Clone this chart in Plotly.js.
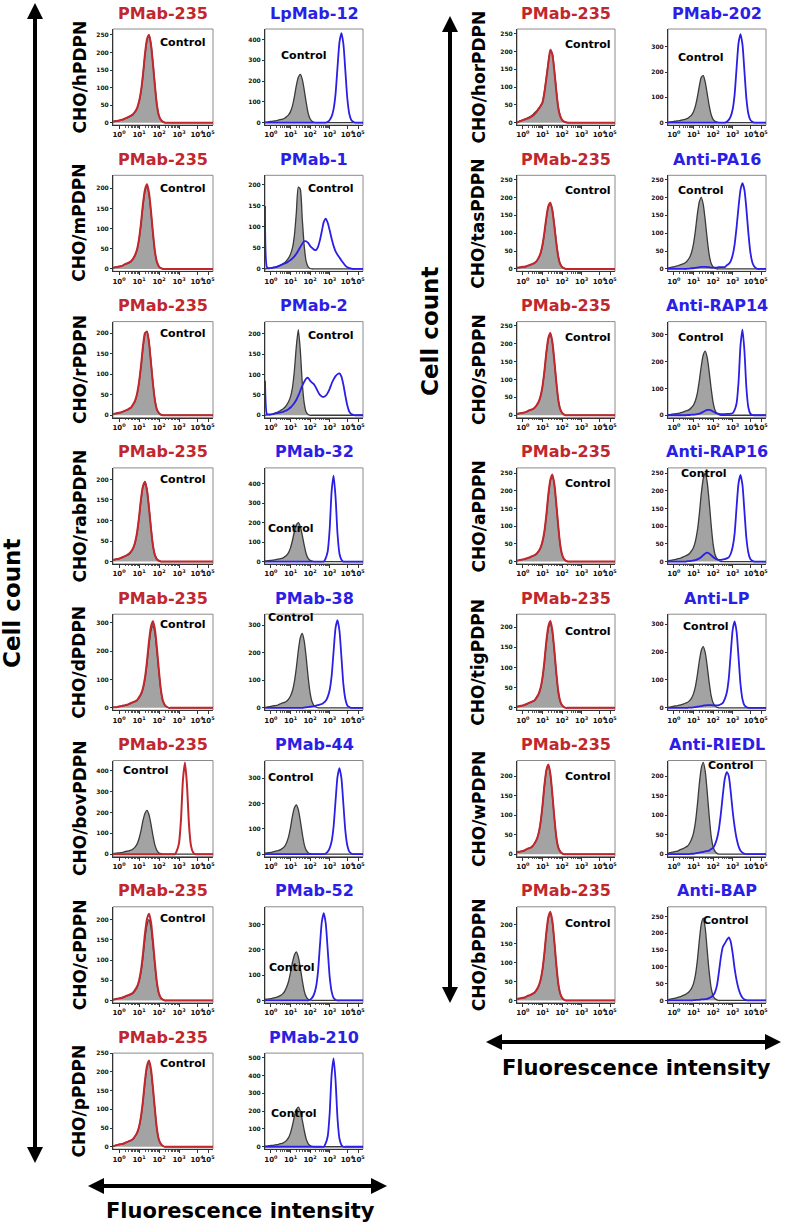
<!DOCTYPE html>
<html><head><meta charset="utf-8">
<script src="https://cdn.plot.ly/plotly-3.0.1.min.js"></script>
<style>html,body{margin:0;padding:0;background:#fff}#chart{width:787px;height:1228px}</style>
</head><body><div id="chart"></div>
<script>
// log10 fluorescence (decades), shared bin centres
const X = [-0.3,-0.2,-0.1,0,0.1,0.2,0.3,0.4,0.5,0.6,0.7,0.8,0.9,1,1.1,1.2,1.3,1.4,1.5,1.6,1.7,1.8,1.9,2,2.1,2.2,2.3,2.4,2.5,2.6,2.7,2.8,2.9,3,3.1,3.2,3.3,3.4,3.5,3.6,3.7,3.8,3.9,4,4.1,4.2,4.3,4.4,4.5,4.6,4.7];
const xTickVals = [0,1,2,3,3.9,4.45];
const xTickText = ['10<sup>0</sup>','10<sup>1</sup>','10<sup>2</sup>','10<sup>3</sup>','10<sup>4</sup>','10<sup>5</sup>'];

const leftRowLabels  = ['CHO/hPDPN','CHO/mPDPN','CHO/rPDPN','CHO/rabPDPN','CHO/dPDPN','CHO/bovPDPN','CHO/cPDPN','CHO/pPDPN'];
const rightRowLabels = ['CHO/horPDPN','CHO/tasPDPN','CHO/sPDPN','CHO/aPDPN','CHO/tigPDPN','CHO/wPDPN','CHO/bPDPN'];
const leftAntibodies  = ['LpMab-12','PMab-1','PMab-2','PMab-32','PMab-38','PMab-44','PMab-52','PMab-210'];
const rightAntibodies = ['PMab-202','Anti-PA16','Anti-RAP14','Anti-RAP16','Anti-LP','Anti-RIEDL','Anti-BAP'];

// ---- counts per bin (51 bins) ----
const hPDPN_ctrl     = [3,4,5,6,8,9,11,14,16,19, 23,30,40,58,88,135,193,235,250,225, 170,105,50,20,8,3,0,0,0,0, 0,0,0,0,0,0,0,0,0,0, 0,0,0,0,0,0,0,0,0,0, 0];
const hPDPN_pmab235  = [3,4,5,6,8,9,12,14,17,20, 24,31,41,60,90,138,196,238,250,222, 166,102,48,19,7,2,0,0,0,0, 0,0,0,0,0,0,0,0,0,0, 0,0,0,0,0,0,0,0,0,0, 0];
const LpMab12_ctrl   = [2,3,5,6,7,8,10,13,15,17, 21,28,37,53,81,125,179,218,232,209, 158,97,46,19,7,2,0,0,0,0, 0,0,0,0,0,0,0,0,0,0, 0,0,0,0,0,0,0,0,0,0, 0];
const LpMab12_ab     = [0,0,0,0,0,0,0,0,0,0, 0,0,0,0,0,0,0,0,0,0, 0,0,0,0,0,0,0,0,0,0, 0,0,4,13,30,65,138,267,387,430, 378,249,116,43,13,4,0,0,0,0, 0];
const mPDPN_ctrl     = [3,4,5,6,7,9,11,13,15,18, 25,33,47,72,111,158,193,205,185,139, 86,41,16,6,2,0,0,0,0,0, 0,0,0,0,0,0,0,0,0,0, 0,0,0,0,0,0,0,0,0,0, 0];
const mPDPN_pmab235  = [3,4,5,6,7,9,12,14,16,19, 25,34,48,74,113,162,197,210,189,143, 88,42,17,6,2,0,0,0,0,0, 0,0,0,0,0,0,0,0,0,0, 0,0,0,0,0,0,0,0,0,0, 0];
const PMab1_ctrl     = [0,1,1,2,3,4,5,7,9,12, 15,20,26,35,50,80,135,195,190,120, 55,18,5,1,0,0,0,0,0,0, 0,0,0,0,0,0,0,0,0,0, 0,0,0,0,0,0,0,0,0,0, 0];
const PMab1_ab       = [150,4,2,2,3,4,5,7,9,11, 13,15,18,21,25,30,36,44,52,60, 66,66,62,55,50,46,45,52,68,90, 112,120,110,92,72,55,42,34,27,20, 14,8,4,2,1,0,0,0,0,0, 0];
const rPDPN_ctrl     = [3,4,5,6,7,9,11,13,15,18, 25,34,50,78,118,165,198,205,180,130, 78,36,14,5,2,0,0,0,0,0, 0,0,0,0,0,0,0,0,0,0, 0,0,0,0,0,0,0,0,0,0, 0];
const rPDPN_pmab235  = [3,4,5,6,7,9,11,13,16,19, 26,35,52,80,120,168,200,203,177,127, 75,35,13,5,1,0,0,0,0,0, 0,0,0,0,0,0,0,0,0,0, 0,0,0,0,0,0,0,0,0,0, 0];
const PMab2_ctrl     = [0,1,1,2,3,5,7,9,12,15, 19,25,33,45,68,110,170,210,160,80, 30,8,2,0,0,0,0,0,0,0, 0,0,0,0,0,0,0,0,0,0, 0,0,0,0,0,0,0,0,0,0, 0];
const PMab2_ab       = [85,3,2,2,3,4,5,6,7,8, 10,12,15,19,24,30,38,48,60,72, 82,90,92,85,80,76,68,58,50,46, 45,48,55,65,78,88,96,101,103,95, 75,48,24,9,3,1,0,0,0,0, 0];
const rabPDPN_ctrl    = [4,5,6,7,9,11,13,15,18,23, 31,45,68,105,150,183,195,176,133,82, 39,16,6,2,0,0,0,0,0,0, 0,0,0,0,0,0,0,0,0,0, 0,0,0,0,0,0,0,0,0,0, 0];
const rabPDPN_pmab235 = [4,5,6,7,9,11,13,16,19,24, 32,46,70,107,152,184,193,173,130,80, 38,15,5,2,0,0,0,0,0,0, 0,0,0,0,0,0,0,0,0,0, 0,0,0,0,0,0,0,0,0,0, 0];
const PMab32_ctrl    = [3,4,5,6,7,9,11,13,15,18, 24,32,46,70,108,154,188,200,180,136, 84,40,16,6,2,0,0,0,0,0, 0,0,0,0,0,0,0,0,0,0, 0,0,0,0,0,0,0,0,0,0, 0];
const PMab32_ab      = [0,0,0,0,0,0,0,0,0,0, 0,0,0,0,0,0,0,0,0,0, 0,0,0,0,0,0,0,0,0,0, 0,18,53,167,361,440,330,141,40,9, 0,0,0,0,0,0,0,0,0,0, 0];
const dPDPN_ctrl     = [2,2,3,4,6,7,9,10,13,16, 19,22,26,35,46,67,102,157,223,273, 290,261,197,122,58,23,9,3,0,0, 0,0,0,0,0,0,0,0,0,0, 0,0,0,0,0,0,0,0,0,0, 0];
const dPDPN_pmab235  = [2,2,3,5,6,8,9,11,14,17, 20,23,27,37,49,70,107,165,235,287, 305,275,207,128,61,24,9,3,0,0, 0,0,0,0,0,0,0,0,0,0, 0,0,0,0,0,0,0,0,0,0, 0];
const PMab38_ctrl    = [2,3,4,5,7,8,9,12,15,18, 20,24,32,43,62,95,146,208,254,270, 243,184,113,54,22,8,3,0,0,0, 0,0,0,0,0,0,0,0,0,0, 0,0,0,0,0,0,0,0,0,0, 0];
const PMab38_ab      = [0,0,0,0,0,0,0,0,0,0, 0,0,0,0,0,0,0,0,0,0, 1,2,3,4,5,6,8,10,12,14, 19,26,40,65,116,205,290,318,279,184, 85,32,9,3,0,0,0,0,0,0, 0];
const bovPDPN_ctrl    = [3,4,5,6,7,9,12,14,16,19, 25,34,48,74,113,162,197,210,189,143, 88,42,17,6,2,0,0,0,0,0, 0,0,0,0,0,0,0,0,0,0, 0,0,0,0,0,0,0,0,0,0, 0];
const bovPDPN_pmab235 = [0,0,0,0,0,0,0,0,0,0, 0,0,0,0,0,0,0,0,0,0, 0,0,0,0,0,0,0,0,0,0, 0,0,18,53,167,361,440,330,141,40, 9,0,0,0,0,0,0,0,0,0, 0];
const PMab44_ctrl    = [4,5,6,7,9,11,13,15,18,23, 31,45,68,105,150,183,195,176,133,82, 39,16,6,2,0,0,0,0,0,0, 0,0,0,0,0,0,0,0,0,0, 0,0,0,0,0,0,0,0,0,0, 0];
const PMab44_ab      = [0,0,0,0,0,0,0,0,0,0, 0,0,0,0,0,0,0,0,0,0, 0,0,0,0,0,0,0,0,0,0, 0,3,10,24,51,109,211,306,340,299, 197,92,34,10,3,0,0,0,0,0, 0];
const cPDPN_ctrl     = [2,3,4,5,6,7,9,11,13,15, 18,24,32,46,70,108,154,188,200,180, 136,84,40,16,6,2,0,0,0,0, 0,0,0,0,0,0,0,0,0,0, 0,0,0,0,0,0,0,0,0,0, 0];
const cPDPN_pmab235  = [2,3,4,5,6,8,10,12,14,16, 19,26,34,49,75,116,166,202,215,194, 146,90,43,17,6,2,0,0,0,0, 0,0,0,0,0,0,0,0,0,0, 0,0,0,0,0,0,0,0,0,0, 0];
const PMab52_ctrl    = [4,5,6,7,9,11,13,16,20,26, 36,52,75,110,150,180,192,172,130,80, 38,15,5,2,0,0,0,0,0,0, 0,0,0,0,0,0,0,0,0,0, 0,0,0,0,0,0,0,0,0,0, 0];
const PMab52_ab      = [0,0,0,0,0,0,0,0,0,0, 0,0,0,0,0,0,0,0,0,0, 0,0,0,3,10,24,52,110,214,311, 345,304,200,93,35,10,3,0,0,0, 0,0,0,0,0,0,0,0,0,0, 0];
const pPDPN_ctrl     = [2,3,5,6,7,8,10,12,15,17, 20,27,36,52,79,122,173,212,225,203, 153,95,45,18,7,2,0,0,0,0, 0,0,0,0,0,0,0,0,0,0, 0,0,0,0,0,0,0,0,0,0, 0];
const pPDPN_pmab235  = [2,3,5,6,7,8,10,13,15,17, 21,28,37,53,81,124,177,216,230,207, 156,97,46,18,7,2,0,0,0,0, 0,0,0,0,0,0,0,0,0,0, 0,0,0,0,0,0,0,0,0,0, 0];
const PMab210_ctrl   = [3,4,6,7,8,10,12,14,17,20, 27,36,51,78,120,171,209,222,200,151, 93,44,18,7,2,0,0,0,0,0, 0,0,0,0,0,0,0,0,0,0, 0,0,0,0,0,0,0,0,0,0, 0];
const PMab210_ab     = [0,0,0,0,0,0,0,0,0,0, 0,0,0,0,0,0,0,0,0,0, 0,0,0,0,0,0,0,0,0,0, 0,20,59,188,406,495,371,158,45,10, 0,0,0,0,0,0,0,0,0,0, 0];

const horPDPN_ctrl    = [0,3,5,8,10,12,15,18,22,28, 33,40,48,58,88,128,170,200,195,150, 95,45,20,8,3,1,0,0,0,0, 0,0,0,0,0,0,0,0,0,0, 0,0,0,0,0,0,0,0,0,0, 0];
const horPDPN_pmab235 = [0,3,5,7,9,11,13,16,19,24, 30,38,46,56,85,125,168,205,192,148, 92,44,19,8,3,1,0,0,0,0, 0,0,0,0,0,0,0,0,0,0, 0,0,0,0,0,0,0,0,0,0, 0];
const PMab202_ctrl   = [2,3,4,5,6,7,8,10,12,14, 17,23,30,43,66,102,145,180,186,160, 115,68,32,13,5,2,0,0,0,0, 0,0,0,0,0,0,0,0,0,0, 0,0,0,0,0,0,0,0,0,0, 0];
const PMab202_ab     = [0,0,0,0,0,0,0,0,0,0, 0,0,0,0,0,0,0,0,0,0, 0,0,0,0,0,0,0,0,0,0, 4,11,25,53,112,217,315,350,308,203, 95,35,11,4,0,0,0,0,0,0, 0];
const tasPDPN_ctrl    = [3,4,5,6,6,8,10,12,14,17, 22,30,43,65,100,142,174,183,167,126, 78,37,15,6,2,0,0,0,0,0, 0,0,0,0,0,0,0,0,0,0, 0,0,0,0,0,0,0,0,0,0, 0];
const tasPDPN_pmab235 = [3,4,5,6,6,8,10,12,14,17, 22,31,44,67,103,145,176,185,165,123, 75,36,14,5,2,0,0,0,0,0, 0,0,0,0,0,0,0,0,0,0, 0,0,0,0,0,0,0,0,0,0, 0];
const PA16_ctrl      = [3,4,5,6,7,9,11,13,15,18, 24,32,46,70,108,154,188,200,180,136, 84,40,16,6,2,0,0,0,0,0, 0,0,0,0,0,0,0,0,0,0, 0,0,0,0,0,0,0,0,0,0, 0];
const PA16_ab        = [0,0,0,0,0,0,0,0,0,0, 1,1,2,2,3,4,5,6,6,6, 5,5,4,4,4,4,5,5,5,5, 10,14,22,39,69,117,174,222,240,221, 168,101,48,19,7,2,0,0,0,0, 0];
const sPDPN_ctrl     = [3,5,6,7,8,10,13,15,17,21, 28,37,53,80,123,175,214,228,205,154, 96,45,18,7,2,0,0,0,0,0, 0,0,0,0,0,0,0,0,0,0, 0,0,0,0,0,0,0,0,0,0, 0];
const sPDPN_pmab235  = [3,5,6,7,8,10,13,15,17,21, 28,37,53,81,124,177,216,230,207,156, 97,46,18,7,2,0,0,0,0,0, 0,0,0,0,0,0,0,0,0,0, 0,0,0,0,0,0,0,0,0,0, 0];
const RAP14_ctrl     = [2,2,4,5,6,7,8,11,13,16, 18,22,29,38,55,84,130,185,226,240, 216,163,101,48,19,7,2,0,0,0, 0,0,0,0,0,0,0,0,0,0, 0,0,0,0,0,0,0,0,0,0, 0];
const RAP14_ab       = [0,0,0,0,0,0,0,0,0,0, 1,1,2,2,3,4,6,9,13,17, 20,20,18,14,10,7,5,4,4,4, 5,5,6,8,20,45,125,262,320,240, 102,29,6,1,0,0,0,0,0,0, 0];
const aPDPN_ctrl     = [2,4,5,6,7,9,11,13,16,18, 22,29,39,56,85,131,187,228,243,219, 165,102,49,19,7,2,0,0,0,0, 0,0,0,0,0,0,0,0,0,0, 0,0,0,0,0,0,0,0,0,0, 0];
const aPDPN_pmab235  = [2,4,5,6,7,9,11,13,16,18, 22,29,39,57,86,133,190,231,246,221, 167,103,49,20,7,2,0,0,0,0, 0,0,0,0,0,0,0,0,0,0, 0,0,0,0,0,0,0,0,0,0, 0];
const RAP16_ctrl     = [2,3,4,5,6,8,9,11,14,16, 19,23,30,40,58,88,135,193,235,250, 225,170,105,50,20,8,3,0,0,0, 0,0,0,0,0,0,0,0,0,0, 0,0,0,0,0,0,0,0,0,0, 0];
const RAP16_ab       = [0,0,0,0,0,0,0,0,0,0, 1,1,2,3,4,6,9,13,18,23, 25,23,18,13,9,6,5,5,6,7, 9,12,22,42,80,155,222,245,216,142, 66,25,7,2,0,0,0,0,0,0, 0];
const tigPDPN_ctrl    = [3,4,5,6,7,9,12,14,16,19, 25,34,48,74,113,162,197,210,189,143, 88,42,17,6,2,0,0,0,0,0, 0,0,0,0,0,0,0,0,0,0, 0,0,0,0,0,0,0,0,0,0, 0];
const tigPDPN_pmab235 = [3,4,5,6,8,10,12,14,16,19, 26,34,49,75,116,166,202,215,194,146, 90,43,17,6,2,0,0,0,0,0, 0,0,0,0,0,0,0,0,0,0, 0,0,0,0,0,0,0,0,0,0, 0];
const LP_ctrl        = [2,3,4,6,7,8,10,12,14,17, 20,26,35,51,77,119,169,207,220,198, 150,92,44,18,7,2,0,0,0,0, 0,0,0,0,0,0,0,0,0,0, 0,0,0,0,0,0,0,0,0,0, 0];
const LP_ab          = [0,0,0,0,0,0,0,0,0,0, 0,1,1,2,3,4,5,6,8,9, 10,10,10,9,9,9,10,13,18,32, 55,105,195,280,310,273,180,84,31,9, 3,0,0,0,0,0,0,0,0,0, 0];
const wPDPN_ctrl     = [5,6,7,8,10,13,15,17,21,28, 37,53,80,123,175,214,228,205,154,96, 45,18,7,2,0,0,0,0,0,0, 0,0,0,0,0,0,0,0,0,0, 0,0,0,0,0,0,0,0,0,0, 0];
const wPDPN_pmab235  = [5,6,7,8,10,13,15,17,21,28, 37,53,81,124,177,216,230,207,156,97, 46,18,7,2,0,0,0,0,0,0, 0,0,0,0,0,0,0,0,0,0, 0,0,0,0,0,0,0,0,0,0, 0];
const RIEDL_ctrl     = [2,4,5,6,7,8,11,13,15,18, 21,28,38,54,82,127,181,221,235,212, 160,99,47,19,7,2,0,0,0,0, 0,0,0,0,0,0,0,0,0,0, 0,0,0,0,0,0,0,0,0,0, 0];
const RIEDL_ab       = [0,0,0,0,0,0,0,0,0,0, 0,0,1,1,2,3,4,5,6,7, 8,9,13,16,25,40,65,105,153,194, 210,200,160,110,70,40,20,9,4,1, 0,0,0,0,0,0,0,0,0,0, 0];
const bPDPN_ctrl     = [4,5,6,7,8,11,13,15,18,21, 28,37,53,81,125,179,218,232,209,158, 97,46,19,7,2,0,0,0,0,0, 0,0,0,0,0,0,0,0,0,0, 0,0,0,0,0,0,0,0,0,0, 0];
const bPDPN_pmab235  = [4,5,6,7,8,11,13,15,18,21, 28,38,54,82,127,181,221,235,212,160, 99,47,19,7,2,0,0,0,0,0, 0,0,0,0,0,0,0,0,0,0, 0,0,0,0,0,0,0,0,0,0, 0];
const BAP_ctrl       = [2,4,5,6,7,9,11,13,16,18, 22,28,36,50,76,120,180,228,245,215, 150,85,38,14,5,2,0,0,0,0, 0,0,0,0,0,0,0,0,0,0, 0,0,0,0,0,0,0,0,0,0, 0];
const BAP_ab         = [0,0,0,0,0,0,0,0,0,0, 0,0,0,1,1,2,2,3,3,4, 5,7,10,15,25,45,85,130,160,170, 180,188,175,140,95,60,35,18,8,3, 1,0,0,0,0,0,0,0,0,0, 0];

// ---- panel layout (c: column block, r: row, s: left/right panel) ----
const panels = [
 {c:0,r:0,s:0,title:'PMab-235',red:1,ctrl:hPDPN_ctrl,ab:hPDPN_pmab235,ymax:267,dt:50,ctl:[182,42]},
 {c:0,r:0,s:1,title:leftAntibodies[0],red:0,ctrl:LpMab12_ctrl,ab:LpMab12_ab,ymax:450,dt:100,ctl:[303,55]},
 {c:0,r:1,s:0,title:'PMab-235',red:1,ctrl:mPDPN_ctrl,ab:mPDPN_pmab235,ymax:232,dt:50,ctl:[182,188]},
 {c:0,r:1,s:1,title:leftAntibodies[1],red:0,ctrl:PMab1_ctrl,ab:PMab1_ab,ymax:223,dt:50,ctl:[330,188]},
 {c:0,r:2,s:0,title:'PMab-235',red:1,ctrl:rPDPN_ctrl,ab:rPDPN_pmab235,ymax:228,dt:50,ctl:[182,333]},
 {c:0,r:2,s:1,title:leftAntibodies[2],red:0,ctrl:PMab2_ctrl,ab:PMab2_ab,ymax:230,dt:50,ctl:[330,335]},
 {c:0,r:3,s:0,title:'PMab-235',red:1,ctrl:rabPDPN_ctrl,ab:rabPDPN_pmab235,ymax:228,dt:50,ctl:[182,480]},
 {c:0,r:3,s:1,title:leftAntibodies[3],red:0,ctrl:PMab32_ctrl,ab:PMab32_ab,ymax:480,dt:100,ctl:[290,528]},
 {c:0,r:4,s:0,title:'PMab-235',red:1,ctrl:dPDPN_ctrl,ab:dPDPN_pmab235,ymax:330,dt:100,ctl:[182,624]},
 {c:0,r:4,s:1,title:leftAntibodies[4],red:0,ctrl:PMab38_ctrl,ab:PMab38_ab,ymax:340,dt:100,ctl:[290,617]},
 {c:0,r:5,s:0,title:'PMab-235',red:1,ctrl:bovPDPN_ctrl,ab:bovPDPN_pmab235,ymax:450,dt:100,ctl:[145,771]},
 {c:0,r:5,s:1,title:leftAntibodies[5],red:0,ctrl:PMab44_ctrl,ab:PMab44_ab,ymax:370,dt:100,ctl:[290,778]},
 {c:0,r:6,s:0,title:'PMab-235',red:1,ctrl:cPDPN_ctrl,ab:cPDPN_pmab235,ymax:232,dt:50,ctl:[182,918]},
 {c:0,r:6,s:1,title:leftAntibodies[6],red:0,ctrl:PMab52_ctrl,ab:PMab52_ab,ymax:370,dt:100,ctl:[291,967]},
 {c:0,r:7,s:0,title:'PMab-235',red:1,ctrl:pPDPN_ctrl,ab:pPDPN_pmab235,ymax:250,dt:50,ctl:[182,1063]},
 {c:0,r:7,s:1,title:leftAntibodies[7],red:0,ctrl:PMab210_ctrl,ab:PMab210_ab,ymax:525,dt:100,ctl:[293,1113]},
 {c:1,r:0,s:0,title:'PMab-235',red:1,ctrl:horPDPN_ctrl,ab:horPDPN_pmab235,ymax:263,dt:50,ctl:[587,44]},
 {c:1,r:0,s:1,title:rightAntibodies[0],red:0,ctrl:PMab202_ctrl,ab:PMab202_ab,ymax:370,dt:100,ctl:[700,57]},
 {c:1,r:1,s:0,title:'PMab-235',red:1,ctrl:tasPDPN_ctrl,ab:tasPDPN_pmab235,ymax:262,dt:50,ctl:[587,190]},
 {c:1,r:1,s:1,title:rightAntibodies[1],red:0,ctrl:PA16_ctrl,ab:PA16_ab,ymax:262,dt:50,ctl:[700,190]},
 {c:1,r:2,s:0,title:'PMab-235',red:1,ctrl:sPDPN_ctrl,ab:sPDPN_pmab235,ymax:262,dt:50,ctl:[587,337]},
 {c:1,r:2,s:1,title:rightAntibodies[2],red:0,ctrl:RAP14_ctrl,ab:RAP14_ab,ymax:350,dt:100,ctl:[700,337]},
 {c:1,r:3,s:0,title:'PMab-235',red:1,ctrl:aPDPN_ctrl,ab:aPDPN_pmab235,ymax:265,dt:50,ctl:[587,484]},
 {c:1,r:3,s:1,title:rightAntibodies[3],red:0,ctrl:RAP16_ctrl,ab:RAP16_ab,ymax:265,dt:50,ctl:[703,473]},
 {c:1,r:4,s:0,title:'PMab-235',red:1,ctrl:tigPDPN_ctrl,ab:tigPDPN_pmab235,ymax:232,dt:50,ctl:[587,631]},
 {c:1,r:4,s:1,title:rightAntibodies[4],red:0,ctrl:LP_ctrl,ab:LP_ab,ymax:336,dt:100,ctl:[705,626]},
 {c:1,r:5,s:0,title:'PMab-235',red:1,ctrl:wPDPN_ctrl,ab:wPDPN_pmab235,ymax:240,dt:50,ctl:[587,777]},
 {c:1,r:5,s:1,title:rightAntibodies[5],red:0,ctrl:RIEDL_ctrl,ab:RIEDL_ab,ymax:240,dt:50,ctl:[730,765]},
 {c:1,r:6,s:0,title:'PMab-235',red:1,ctrl:bPDPN_ctrl,ab:bPDPN_pmab235,ymax:248,dt:50,ctl:[587,923]},
 {c:1,r:6,s:1,title:rightAntibodies[6],red:0,ctrl:BAP_ctrl,ab:BAP_ab,ymax:279,dt:50,ctl:[725,920]}
];

const W=787,H=1228;
const fx=p=>p/W, fy=p=>1-p/H;
const colPix=[[[113,213],[265,363]],[[517,615],[668,766]]];
const top0=29,rowStep=146.3,boxH=96;
const RED='#c1272d',BLUE='#2b1ee6',GFILL='#a3a3a3',GLINE='#3a3a3a';
const FONT='DejaVu Sans';
// minor (log) tick marks between decades, axis decoration only
const minorTicks=[];
[0,1,2].forEach(d=>[2,3,4,5,6,7,8,9].forEach(k=>minorTicks.push(+(d+Math.log10(k)).toFixed(3))));

const data=[];
const layout={width:W,height:H,margin:{l:0,r:0,t:0,b:0},showlegend:false,
  paper_bgcolor:'#fff',plot_bgcolor:'rgba(0,0,0,0)',font:{family:FONT,color:'#000'},
  annotations:[],shapes:[]};

panels.forEach((p,k)=>{
  const n=k+1,sfx=n>1?String(n):'';
  const xa='x'+sfx,ya='y'+sfx;
  const [x0,x1]=colPix[p.c][p.s];
  const y0=top0+p.r*rowStep,y1=y0+boxH;
  layout['xaxis'+sfx]={domain:[fx(x0),fx(x1)],anchor:ya,range:[-0.3,4.7],
    tickvals:xTickVals,ticktext:xTickText,tickangle:0,
    tickfont:{size:7,family:FONT,color:'#111',weight:'bold'},
    ticks:'outside',ticklen:3,tickcolor:'#333',showline:true,linecolor:'#333',linewidth:1,
    minor:{tickvals:minorTicks,ticks:'outside',ticklen:1.5,tickcolor:'#555',showgrid:false},
    showgrid:false,zeroline:false,fixedrange:true};
  layout['yaxis'+sfx]={domain:[fy(y1),fy(y0)],anchor:xa,range:[-0.025*p.ymax,p.ymax],
    tick0:0,dtick:p.dt,tickfont:{size:6,family:FONT,color:'#111',weight:'bold'},
    ticks:'outside',ticklen:2,tickcolor:'#333',showline:true,linecolor:'#333',linewidth:1,
    showgrid:false,zeroline:false,fixedrange:true};
  data.push({type:'scatter',mode:'lines',x:X,y:p.ctrl,xaxis:xa,yaxis:ya,
    line:{color:GLINE,width:1.3,shape:'spline',smoothing:0.6},fill:'tozeroy',fillcolor:GFILL,hoverinfo:'skip'});
  data.push({type:'scatter',mode:'lines',x:X,y:p.ab,xaxis:xa,yaxis:ya,
    line:{color:p.red?RED:BLUE,width:p.red?2:1.8,shape:'spline',smoothing:0.6},hoverinfo:'skip'});
  layout.shapes.push({type:'rect',xref:'paper',yref:'paper',x0:fx(x0),x1:fx(x1),y0:fy(y1),y1:fy(y0),
    line:{color:'#8a8a8a',width:1},layer:'below'});
  layout.annotations.push({xref:'paper',yref:'paper',x:fx((x0+x1)/2),y:fy(y0-16),
    text:'<b>'+p.title+'</b>',showarrow:false,xanchor:'center',yanchor:'middle',
    font:{size:16,family:FONT,color:p.red?RED:BLUE}});
  layout.annotations.push({xref:'paper',yref:'paper',x:fx(p.ctl[0]),y:fy(p.ctl[1]),
    text:'<b>Control</b>',showarrow:false,xanchor:'center',yanchor:'middle',
    font:{size:11,family:FONT,color:'#000'}});
});

leftRowLabels.forEach((t,r)=>layout.annotations.push({xref:'paper',yref:'paper',x:fx(79.5),y:fy(top0+r*rowStep+48),
  text:'<b>'+t+'</b>',textangle:-90,showarrow:false,xanchor:'center',yanchor:'middle',font:{size:17,family:FONT}}));
rightRowLabels.forEach((t,r)=>layout.annotations.push({xref:'paper',yref:'paper',x:fx(478.5),y:fy(top0+r*rowStep+48),
  text:'<b>'+t+'</b>',textangle:-90,showarrow:false,xanchor:'center',yanchor:'middle',font:{size:17,family:FONT}}));

[[12,604],[430,332]].forEach(([x,y])=>layout.annotations.push({xref:'paper',yref:'paper',x:fx(x),y:fy(y),
  text:'<b>Cell count</b>',textangle:-90,showarrow:false,xanchor:'center',yanchor:'middle',font:{size:23,family:FONT}}));
[[240,1211],[636,1068]].forEach(([x,y])=>layout.annotations.push({xref:'paper',yref:'paper',x:fx(x),y:fy(y),
  text:'<b>Fluorescence intensity</b>',showarrow:false,xanchor:'center',yanchor:'middle',font:{size:21,family:FONT}}));

// double-headed arrows
function tri(pts){return 'M'+pts.map(([a,b])=>fx(a)+','+fy(b)).join(' L')+' Z';}
function vArrow(x,yt,yb){
  layout.shapes.push({type:'line',xref:'paper',yref:'paper',x0:fx(x),x1:fx(x),y0:fy(yt+12),y1:fy(yb-12),line:{color:'#000',width:4}});
  layout.shapes.push({type:'path',xref:'paper',yref:'paper',path:tri([[x,yt],[x-8,yt+16],[x+8,yt+16]]),fillcolor:'#000',line:{width:0}});
  layout.shapes.push({type:'path',xref:'paper',yref:'paper',path:tri([[x,yb],[x-8,yb-16],[x+8,yb-16]]),fillcolor:'#000',line:{width:0}});
}
function hArrow(y,xl,xr){
  layout.shapes.push({type:'line',xref:'paper',yref:'paper',x0:fx(xl+12),x1:fx(xr-12),y0:fy(y),y1:fy(y),line:{color:'#000',width:4}});
  layout.shapes.push({type:'path',xref:'paper',yref:'paper',path:tri([[xl,y],[xl+16,y-8],[xl+16,y+8]]),fillcolor:'#000',line:{width:0}});
  layout.shapes.push({type:'path',xref:'paper',yref:'paper',path:tri([[xr,y],[xr-16,y-8],[xr-16,y+8]]),fillcolor:'#000',line:{width:0}});
}
vArrow(35,3,1163);
vArrow(450,16,1003);
hArrow(1186,88,387);
hArrow(1042,486,781);

Plotly.newPlot('chart',data,layout,{displayModeBar:false,staticPlot:true});
</script>
</body></html>
